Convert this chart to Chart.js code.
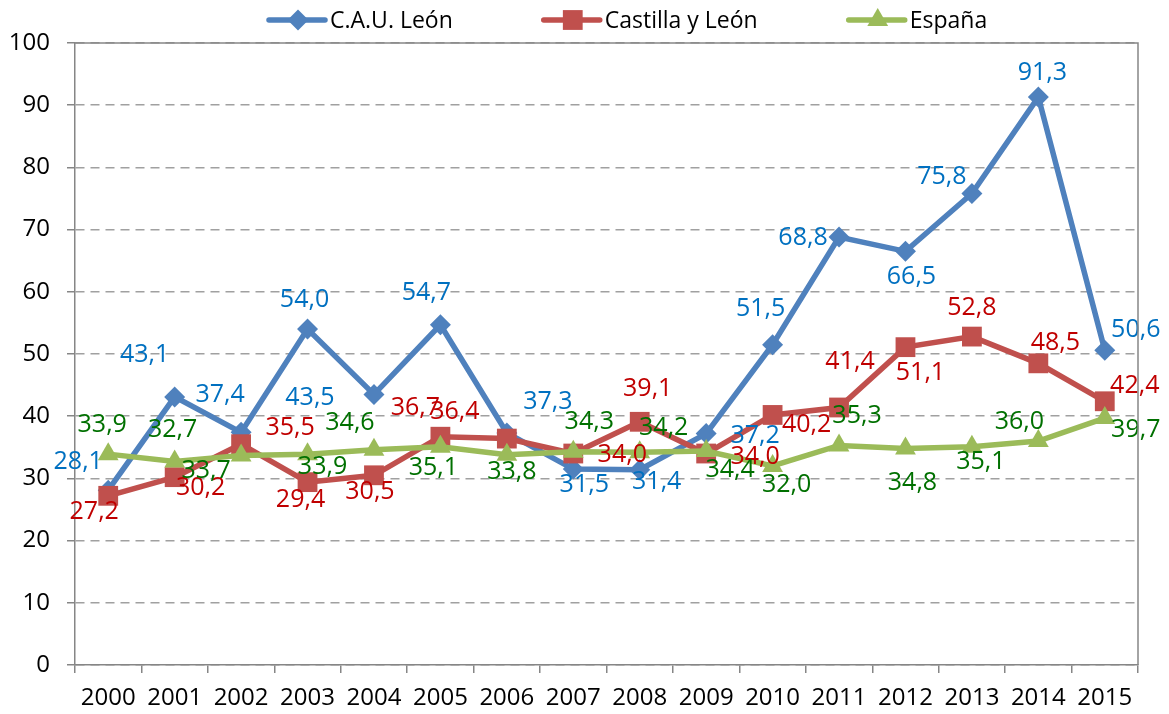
<!DOCTYPE html>
<html lang="es">
<head>
<meta charset="UTF-8">
<title>C.A.U. León</title>
<script src="https://cdn.jsdelivr.net/npm/chart.js"></script>
<style>
  html, body { margin: 0; padding: 0; background: #fff; }
  #wrap { width: 1169px; height: 714px; }
</style>
</head>
<body>
<div id="wrap"><canvas id="myChart" width="1169" height="714"></canvas></div>
<script>
const years = ['2000', '2001', '2002', '2003', '2004', '2005', '2006', '2007', '2008', '2009', '2010', '2011', '2012', '2013', '2014', '2015'];
const cauLeon = [28.1, 43.1, 37.4, 54.0, 43.5, 54.7, 37.3, 31.5, 31.4, 37.2, 51.5, 68.8, 66.5, 75.8, 91.3, 50.6];
const castillaLeon = [27.2, 30.2, 35.5, 29.4, 30.5, 36.7, 36.4, 34.0, 39.1, 34.0, 40.2, 41.4, 51.1, 52.8, 48.5, 42.4];
const espana = [33.9, 32.7, 33.7, 33.9, 34.6, 35.1, 33.8, 34.3, 34.2, 34.4, 32.0, 35.3, 34.8, 35.1, 36.0, 39.7];
const yTicks = [0, 10, 20, 30, 40, 50, 60, 70, 80, 90, 100];

// where each value label sits relative to its point (the excel labels were moved by hand)
const cauOffsets = [[-30, -28], [-30, -42], [-21, -37], [-3, -29], [-64, 3], [-14, -32], [41, -31], [11, 16],
  [17, 12], [49, 2], [-12, -36], [-36, 1], [6, 26], [-30, -17], [4, -24], [31, -20]];
const cylOffsets = [[-14, 16], [26, 11], [49, -16], [-7, 18], [-4, 17], [-25, -29], [-52, -27], [49, 1],
  [8, -33], [49, 3], [34, 10], [11, -46], [15, 26], [0, -29], [17, -20], [30, -15]];
const espOffsets = [[-6, -29], [-2, -32], [-35, 15], [15, 13], [-24, -27], [-7, 21], [5, 17], [16, -30],
  [24, -24], [24, 19], [14, 19], [18, -30], [7, 34], [9, 15], [-19, -19], [31, 12]];

const FONT = "'Open Sans', 'Liberation Sans', sans-serif";

function drawMarker(ctx, style, r, x, y, color) {
  ctx.fillStyle = color;
  ctx.beginPath();
  if (style === 'rectRot') {
    ctx.moveTo(x - r, y); ctx.lineTo(x, y - r); ctx.lineTo(x + r, y); ctx.lineTo(x, y + r);
  } else if (style === 'rect') {
    const s = Math.SQRT1_2 * r;
    ctx.rect(x - s, y - s, 2 * s, 2 * s);
  } else {
    ctx.moveTo(x, y - r); ctx.lineTo(x + r * 0.866, y + r / 2); ctx.lineTo(x - r * 0.866, y + r / 2);
  }
  ctx.closePath();
  ctx.fill();
}

const valueLabels = {
  id: 'valueLabels',
  afterDatasetsDraw(chart) {
    const ctx = chart.ctx;
    ctx.save();
    ctx.font = '25px ' + FONT;
    ctx.textAlign = 'center';
    ctx.textBaseline = 'middle';
    chart.data.datasets.forEach((ds, i) => {
      const meta = chart.getDatasetMeta(i);
      ctx.fillStyle = ds.labelColor;
      meta.data.forEach((pt, j) => {
        const off = ds.labelOffsets[j];
        ctx.fillText(ds.data[j].toFixed(1).replace('.', ','), pt.x + off[0], pt.y + off[1]);
      });
    });
    ctx.restore();
  }
};

const frameAndLegend = {
  id: 'frameAndLegend',
  afterDraw(chart) {
    const ctx = chart.ctx;
    const a = chart.chartArea;
    ctx.save();
    // plot border top and right
    ctx.strokeStyle = '#868686';
    ctx.lineWidth = 1.5;
    ctx.setLineDash([]);
    ctx.beginPath();
    ctx.moveTo(a.left, a.top);
    ctx.lineTo(a.right, a.top);
    ctx.lineTo(a.right, a.bottom);
    ctx.stroke();

    // legend
    ctx.font = '23px ' + FONT;
    ctx.textBaseline = 'middle';
    ctx.textAlign = 'left';
    let x = 269;
    const y = 20;
    chart.data.datasets.forEach(ds => {
      ctx.strokeStyle = ds.borderColor;
      ctx.lineWidth = 5.5;
      ctx.lineCap = 'round';
      ctx.beginPath();
      ctx.moveTo(x, y);
      ctx.lineTo(x + 56, y);
      ctx.stroke();
      drawMarker(ctx, ds.pointStyle, ds.pointRadius, x + 29, y, ds.pointBackgroundColor);
      ctx.fillStyle = '#000';
      ctx.fillText(ds.label, x + 61, y + 1);
      x += 61 + ctx.measureText(ds.label).width + 91;
    });
    ctx.restore();
  }
};

new Chart(document.getElementById('myChart'), {
  type: 'line',
  data: {
    labels: years,
    datasets: [
      {
        label: 'C.A.U. León', data: cauLeon, order: 3,
        borderColor: '#4F81BD', backgroundColor: '#4F81BD', borderWidth: 5.5,
        pointStyle: 'rectRot', pointRadius: 10.5, pointBackgroundColor: '#4F81BD', pointBorderWidth: 0,
        labelColor: '#0070C0', labelOffsets: cauOffsets
      },
      {
        label: 'Castilla y León', data: castillaLeon, order: 2,
        borderColor: '#C0504D', backgroundColor: '#C0504D', borderWidth: 5.5,
        pointStyle: 'rect', pointRadius: 14, pointBackgroundColor: '#C0504D', pointBorderWidth: 0,
        labelColor: '#C00000', labelOffsets: cylOffsets
      },
      {
        label: 'España', data: espana, order: 1,
        borderColor: '#9BBB59', backgroundColor: '#9BBB59', borderWidth: 5.5,
        pointStyle: 'triangle', pointRadius: 12, pointBackgroundColor: '#9BBB59', pointBorderWidth: 0,
        labelColor: '#007000', labelOffsets: espOffsets
      }
    ]
  },
  options: {
    responsive: false,
    animation: false,
    events: [],
    layout: { padding: { top: 43, right: 31, left: 0, bottom: 0 } },
    elements: { line: { tension: 0 } },
    plugins: { legend: { display: false }, tooltip: { enabled: false } },
    scales: {
      x: {
        offset: true,
        grid: { offset: true, drawOnChartArea: false, color: '#868686', tickLength: 8, lineWidth: 1.5 },
        border: { color: '#868686', width: 1.5 },
        ticks: { color: '#000', font: { family: FONT, size: 24 }, padding: 11, maxRotation: 0 },
        afterFit(scale) { scale.height = 49; }
      },
      y: {
        min: 0, max: 100,
        afterBuildTicks(scale) { scale.ticks = yTicks.map(v => ({ value: v })); },
        grid: { color: '#A0A0A0', lineWidth: 1.5, tickLength: 8, tickColor: '#868686', tickBorderDash: [] },
        border: { color: '#868686', width: 1.5, dash: [9, 6] },
        ticks: { color: '#000', font: { family: FONT, size: 24 }, padding: 17 },
        afterFit(scale) { scale.width = 75; }
      }
    }
  },
  plugins: [valueLabels, frameAndLegend]
});
</script>
</body>
</html>
